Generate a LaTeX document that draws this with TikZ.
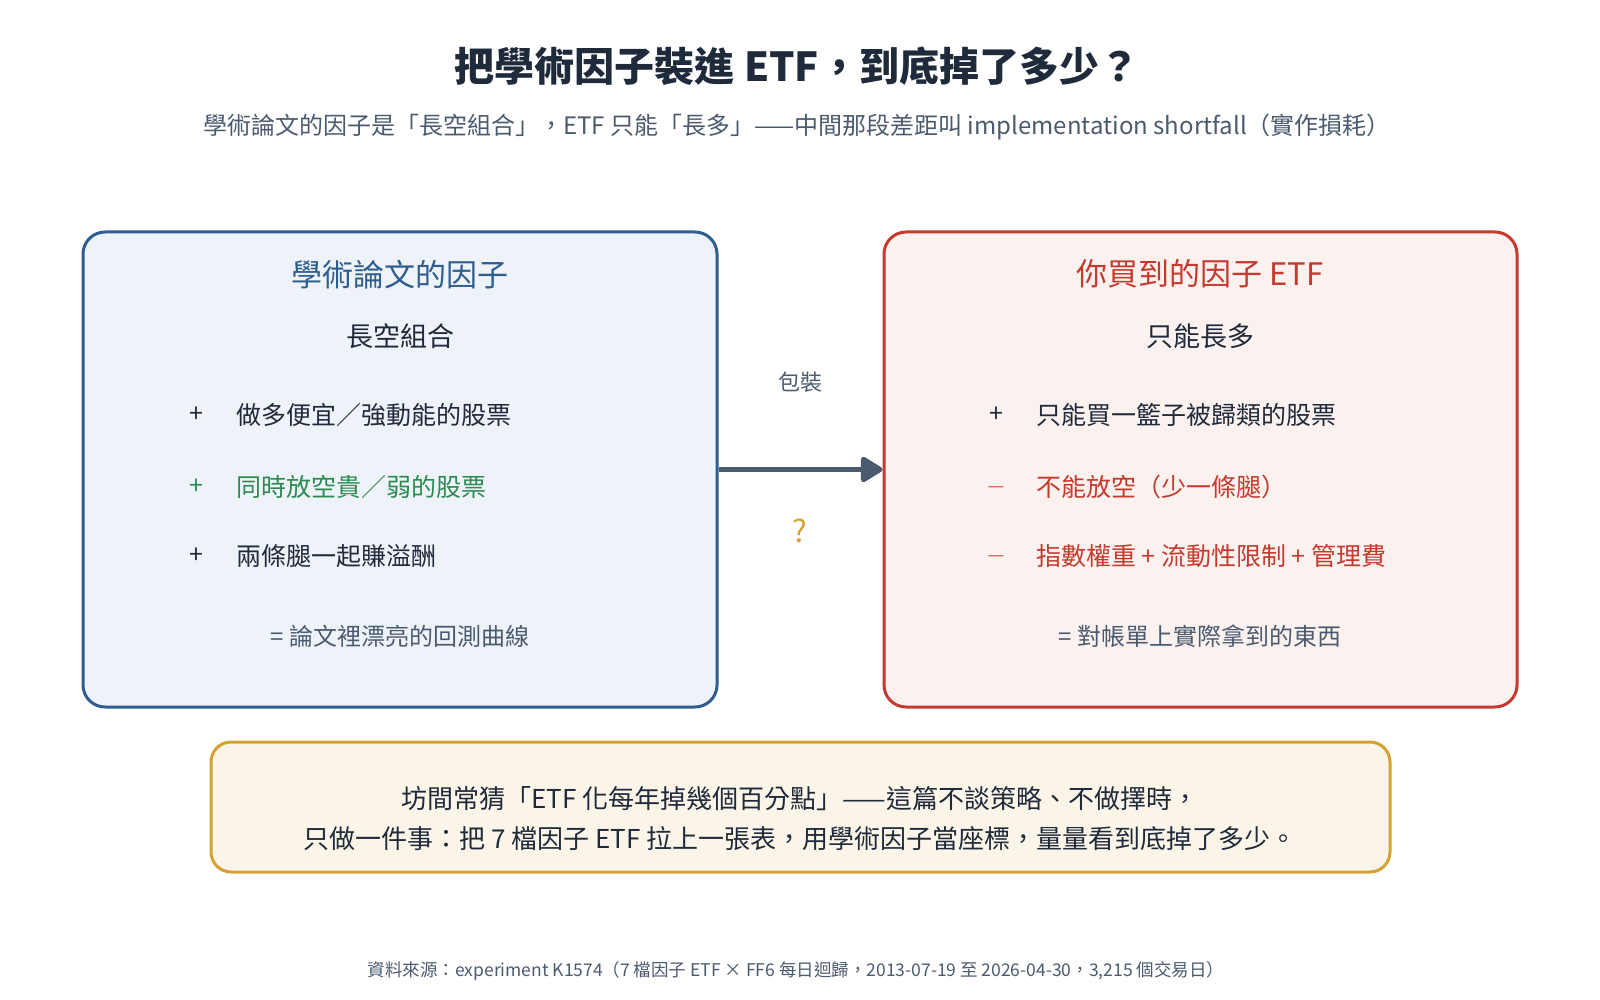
\documentclass[tikz,border=0pt]{standalone}
\usepackage{fontspec}
\setmainfont{Noto Sans CJK TC}
\usetikzlibrary{arrows.meta}

\definecolor{ink}{HTML}{1F2A3A}
\definecolor{slate}{HTML}{4B5B6F}
\definecolor{paperblue}{HTML}{2F5E8E}
\definecolor{paperfill}{HTML}{EEF3FA}
\definecolor{etfred}{HTML}{C43A2E}
\definecolor{etffill}{HTML}{FBF1EF}
\definecolor{longgreen}{HTML}{2E8A50}
\definecolor{gold}{HTML}{D2A233}
\definecolor{goldfill}{HTML}{FBF5E9}

\newcommand{\px}[1]{\fontsize{#1}{#1}\selectfont}

\tikzset{
 panel/.style={draw, line width=3pt, rounded corners=22pt, inner sep=0pt},
 headline/.style={font=\px{31}, inner sep=0pt},
 subhead/.style={font=\px{27}, text=ink, inner sep=0pt},
 sign/.style={font=\px{25}, inner sep=0pt},
 item/.style={font=\px{25}, inner sep=0pt, anchor=west},
 total/.style={font=\px{24}, text=slate, inner sep=0pt},
}

\begin{document}
\begin{tikzpicture}[x=1pt,y=-1pt]

% one row of a panel: sign in front, text after it
\newcommand{\legrow}[6][ink] % [color]{name}{x}{y}{sign}{text}
{
 \node[sign, text=#1] (#2s) at (#3,#4) {#5};
 \node[item, text=#1] (#2) at ({#3+40},#4) {#6};
}

\path[fill=white] (0,0) rectangle (1600,1000);

% heading
\node[font=\px{40}\bfseries, text=ink] (title) at (797,66)
 {把學術因子裝進 ETF，到底掉了多少？};
\node[font=\px{24}, text=slate] (subtitle) at (797,127)
 {學術論文的因子是「長空組合」，ETF 只能「長多」——中間那段差距叫 implementation shortfall（實作損耗）};

% the two panels
\node[panel, draw=paperblue, fill=paperfill, minimum width=634pt, minimum height=475pt]
 (lbox) at (400,469.5) {};
\node[panel, draw=etfred, fill=etffill, minimum width=633pt, minimum height=475pt]
 (rbox) at (1200.5,469.5) {};

% left: the paper factor
\node[headline, text=paperblue] (ltitle) at (400,275) {學術論文的因子};
\node[subhead] (lsub) at (400,336) {長空組合};
\legrow{l1}{196}{415}{+}{做多便宜／強動能的股票}
\legrow[longgreen]{l2}{196}{487}{+}{同時放空貴／弱的股票}
\legrow{l3}{196}{556}{+}{兩條腿一起賺溢酬}
\node[total] (lsum) at (400,636) {= 論文裡漂亮的回測曲線};

% right: the ETF you hold
\node[headline, text=etfred] (rtitle) at (1200,274) {你買到的因子 ETF};
\node[subhead] (rsub) at (1200,336) {只能長多};
\legrow{r1}{996}{415}{+}{只能買一籃子被歸類的股票}
\legrow[etfred]{r2}{996}{487}{$-$}{不能放空（少一條腿）}
\legrow[etfred]{r3}{996}{556}{$-$}{指數權重 + 流動性限制 + 管理費}
\node[total] (rsum) at (1200,636) {= 對帳單上實際拿到的東西};

% wrapping step
\draw[draw=slate, line width=5pt, -{Triangle[length=24pt,width=28pt,round]}]
 (lbox.east) -- (rbox.west);
\node[font=\px{22}, text=slate] (wrap) at (800,382) {包裝};
\node[font=\px{31}, text=gold] (qmark) at (800,531) {?};

% note at the bottom
\node[panel, draw=gold, fill=goldfill, rounded corners=20pt,
 minimum width=1179pt, minimum height=130pt] (note) at (800.5,807) {};
\node[font=\fontsize{26}{40}\selectfont, text=ink, align=center] (notetext) at (800,819)
 {坊間常猜「ETF 化每年掉幾個百分點」——這篇不談策略、不做擇時，\\
  只做一件事：把 7 檔因子 ETF 拉上一張表，用學術因子當座標，量量看到底掉了多少。};

\node[font=\px{17.5}, text=slate] (source) at (796,971)
 {資料來源：experiment K1574（7 檔因子 ETF × FF6 每日迴歸，2013-07-19 至 2026-04-30，3,215 個交易日）};

\end{tikzpicture}
\end{document}
